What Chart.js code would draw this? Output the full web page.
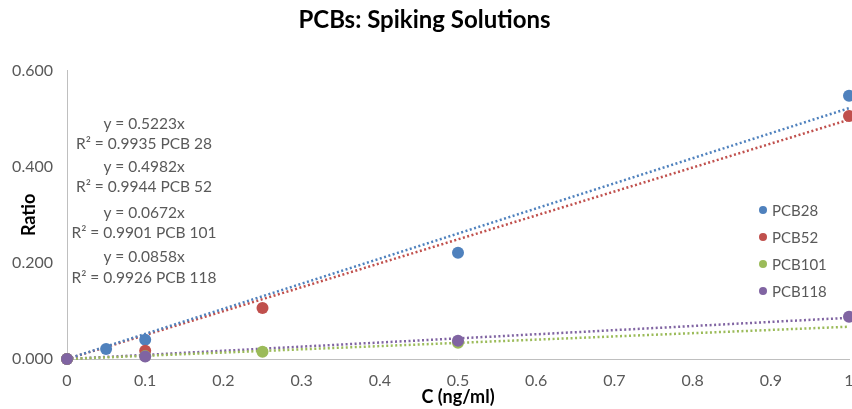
<!DOCTYPE html>
<html>
<head>
<meta charset="utf-8">
<script src="https://cdn.jsdelivr.net/npm/chart.js@4/dist/chart.umd.min.js"></script>
<style>
  html, body { margin: 0; padding: 0; background: #fff; }
  #wrap { width: 852px; height: 409px; }
</style>
</head>
<body>
<div id="wrap"><canvas id="c" width="852" height="409"></canvas></div>
<script>
// series names and colours
var seriesNames  = ['PCB28', 'PCB52', 'PCB101', 'PCB118'];
var seriesColors = ['#4F81BD', '#C0504D', '#9BBB59', '#8064A2'];

// measured points (C in ng/ml, ratio)
var pcb28X  = [0, 0.05, 0.1, 0.5, 1];
var pcb28Y  = [0, 0.021, 0.040, 0.221, 0.548];
var pcb52X  = [0, 0.1, 0.25, 1];
var pcb52Y  = [0, 0.017, 0.106, 0.506];
var pcb101X = [0, 0.1, 0.25, 0.5];
var pcb101Y = [0, 0.006, 0.015, 0.034];
var pcb118X = [0, 0.1, 0.5, 1];
var pcb118Y = [0, 0.005, 0.038, 0.088];

// trendline slopes (y = a x) and their labels
var slopes = [0.5223, 0.4982, 0.0672, 0.0858];
var trendLabels = [
  'y = 0.5223x', 'R\u00b2 = 0.9935 PCB 28',
  'y = 0.4982x', 'R\u00b2 = 0.9944 PCB 52',
  'y = 0.0672x', 'R\u00b2 = 0.9901 PCB 101',
  'y = 0.0858x', 'R\u00b2 = 0.9926 PCB 118'
];
var trendLabelY = [124, 144, 167, 187, 213, 233, 257, 278];

var xTicks = [0, 0.1, 0.2, 0.3, 0.4, 0.5, 0.6, 0.7, 0.8, 0.9, 1];
var yTicks = [0, 0.2, 0.4, 0.6];

function pts(xs, ys) {
  return xs.map(function(x, i){ return { x: x, y: ys[i] }; });
}

var pointSets = [pts(pcb28X, pcb28Y), pts(pcb52X, pcb52Y), pts(pcb101X, pcb101Y), pts(pcb118X, pcb118Y)];
var drawOrder = [4, 3, 2, 1];

var datasets = [];
seriesNames.forEach(function(name, i){
  datasets.push({
    type: 'scatter', label: name, data: pointSets[i],
    backgroundColor: seriesColors[i], borderColor: seriesColors[i],
    pointRadius: 6, pointHoverRadius: 6, borderWidth: 0, order: drawOrder[i], clip: false
  });
});
seriesNames.forEach(function(name, i){
  datasets.push({
    type: 'line', label: name + ' trend',
    data: [{ x: 0, y: 0 }, { x: 1, y: slopes[i] }],
    borderColor: seriesColors[i], borderWidth: 2.5, borderDash: [2, 2.5],
    pointRadius: 0, fill: false, order: 10 + i, clip: false
  });
});

var grey = '#595959';
var font = 'Lato, "Open Sans", sans-serif';

var overlay = {
  id: 'overlay',
  afterDraw: function(chart) {
    var ctx = chart.ctx;
    ctx.save();
    ctx.fillStyle = grey;
    ctx.font = '15.5px ' + font;
    ctx.textAlign = 'center';
    ctx.textBaseline = 'middle';
    trendLabels.forEach(function(t, i){
      ctx.fillText(t, 144, trendLabelY[i]);
    });
    // legend
    ctx.font = '15px ' + font;
    ctx.textAlign = 'left';
    seriesNames.forEach(function(name, i){
      var y = 210 + i * 27;
      ctx.beginPath();
      ctx.fillStyle = seriesColors[i];
      ctx.arc(763, y, 4, 0, Math.PI * 2);
      ctx.fill();
      ctx.fillStyle = grey;
      ctx.fillText(name, 772, y + 1);
    });
    ctx.restore();
  }
};

new Chart(document.getElementById('c'), {
  type: 'scatter',
  data: { datasets: datasets },
  plugins: [overlay],
  options: {
    responsive: false, animation: false,
    layout: { autoPadding: false, padding: { left: 0, right: 3, top: 0, bottom: 0 } },
    plugins: {
      legend: { display: false },
      tooltip: { enabled: false },
      title: {
        display: true, text: 'PCBs: Spiking Solutions', color: '#000',
        font: { family: font, size: 24, weight: 'bold' },
        padding: { top: 6, bottom: 36 }
      }
    },
    scales: {
      x: {
        type: 'linear', min: 0, max: 1,
        afterBuildTicks: function(s){ s.ticks = xTicks.map(function(v){ return { value: v }; }); },
        afterFit: function(s){ s.height = 50; s.paddingLeft = 0; s.paddingRight = 0; },
        ticks: { color: grey, padding: 12, font: { family: font, size: 16 },
          callback: function(v){ return String(+v.toFixed(1)); } },
        grid: { display: false, drawTicks: false },
        border: { color: '#BFBFBF', width: 1 },
        title: { display: true, text: 'C (ng/ml)', color: '#000', padding: { top: 0, bottom: 1 },
          font: { family: font, size: 18, weight: 'bold' } }
      },
      y: {
        type: 'linear', min: 0, max: 0.6,
        afterBuildTicks: function(s){ s.ticks = yTicks.map(function(v){ return { value: v }; }); },
        afterFit: function(s){ s.width = 67; },
        ticks: { color: grey, padding: 14, font: { family: font, size: 16 },
          callback: function(v){ return v.toFixed(3); } },
        grid: { display: false, drawTicks: false },
        border: { color: '#BFBFBF', width: 1 },
        title: { display: true, text: 'Ratio', color: '#000', padding: { top: 18, bottom: 0 },
          font: { family: font, size: 18, weight: 'bold' } }
      }
    }
  }
});
</script>
</body>
</html>
